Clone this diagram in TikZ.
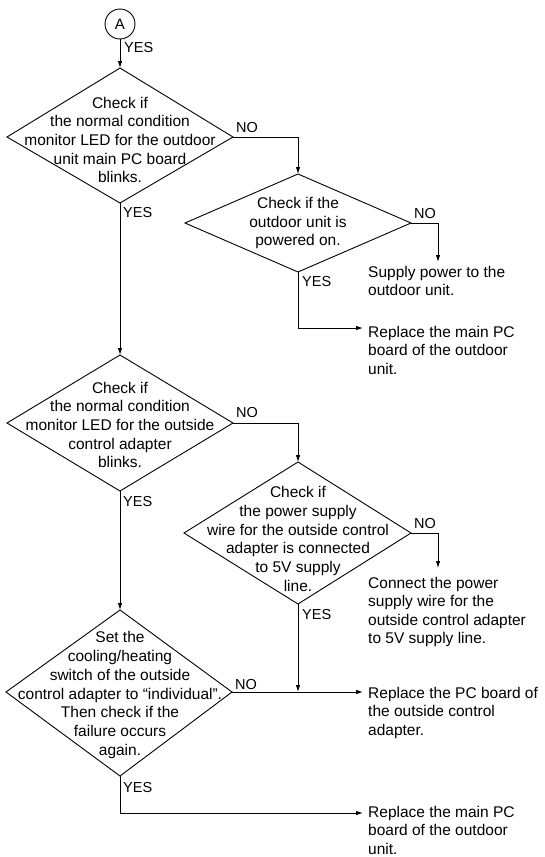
\documentclass[tikz,border=0pt]{standalone}
\usepackage{fontspec}
\setmainfont{Liberation Sans}
\usetikzlibrary{arrows.meta}
\begin{document}
\begin{tikzpicture}[x=1pt,y=-1pt,
  line/.style={draw, line width=0.9pt},
  arr/.style={line, -{Latex[length=7pt,width=4.5pt]}},
  txt/.style={font=\fontsize{15.5}{18.7}\selectfont, align=center, inner sep=0pt},
  rtxt/.style={font=\fontsize{15.5}{18.5}\selectfont, align=left, inner sep=0pt, anchor=north west},
  lbl/.style={font=\fontsize{14.5}{16}\selectfont, inner sep=0pt, anchor=west},
]
\useasboundingbox (0,0) rectangle (545,857);

% start circle
\node[draw, circle, line width=0.9pt, minimum size=30pt, inner sep=0pt, font=\fontsize{15}{16}\selectfont] (A) at (120,24) {A};

% diamond 1
\coordinate (d1t) at (120,68);
\coordinate (d1l) at (7,137);
\coordinate (d1r) at (233,137);
\coordinate (d1b) at (120,203);
\draw[line] (d1t) -- (d1r) -- (d1b) -- (d1l) -- cycle;
\node[txt] (d1) at (120,140) {Check if\\the normal condition\\monitor LED for the outdoor\\unit main PC board\\blinks.};

% diamond 2
\coordinate (d2t) at (298,174);
\coordinate (d2l) at (185,223);
\coordinate (d2r) at (411,223);
\coordinate (d2b) at (298,272);
\draw[line] (d2t) -- (d2r) -- (d2b) -- (d2l) -- cycle;
\node[txt] (d2) at (298,223) {Check if the\\outdoor unit is\\powered on.};

% diamond 3
\coordinate (d3t) at (120,355);
\coordinate (d3l) at (7,423);
\coordinate (d3r) at (233,423);
\coordinate (d3b) at (120,491);
\draw[line] (d3t) -- (d3r) -- (d3b) -- (d3l) -- cycle;
\node[txt] (d3) at (120,425) {Check if\\the normal condition\\monitor LED for the outside\\control adapter\\blinks.};

% diamond 4
\coordinate (d4t) at (298,462);
\coordinate (d4l) at (184,533);
\coordinate (d4r) at (411,533);
\coordinate (d4b) at (298,604);
\draw[line] (d4t) -- (d4r) -- (d4b) -- (d4l) -- cycle;
\node[txt] (d4) at (298,539) {Check if\\the power supply\\wire for the outside control\\adapter is connected\\to 5V supply\\line.};

% diamond 5
\coordinate (d5t) at (120,610);
\coordinate (d5l) at (6,692);
\coordinate (d5r) at (232,692);
\coordinate (d5b) at (120,776);
\draw[line] (d5t) -- (d5r) -- (d5b) -- (d5l) -- cycle;
\node[txt] (d5) at (120,695) {Set the\\cooling/heating\\switch of the outside\\control adapter to “individual”.\\Then check if the\\failure occurs\\again.};

% result texts
\node[rtxt] (r1) at (368,266) {Supply power to the\\outdoor unit.};
\node[rtxt] (r2) at (368,326) {Replace the main PC\\board of the outdoor\\unit.};
\node[rtxt] (r3) at (368,577) {Connect the power\\supply wire for the\\outside control adapter\\to 5V supply line.};
\node[rtxt] (r4) at (368,687) {Replace the PC board of\\the outside control\\adapter.};
\node[rtxt] (r5) at (368,806) {Replace the main PC\\board of the outdoor\\unit.};

% arrow end points
\coordinate (e1) at (438,262);
\coordinate (e2) at (363,328);
\coordinate (e3) at (438,568);
\coordinate (j4) at (298,692);
\coordinate (e4) at (363,692);
\coordinate (e5) at (363,813);

% connectors
\draw[arr] (A) -- (d1t);
\draw[arr] (d1b) -- (d3t);
\draw[arr] (d1r) -| (d2t);
\draw[arr] (d2r) -| (e1);
\draw[arr] (d2b) |- (e2);
\draw[arr] (d3b) -- (d5t);
\draw[arr] (d3r) -| (d4t);
\draw[arr] (d4r) -| (e3);
\draw[arr] (d4b) -- (j4);
\draw[arr] (d5r) -- (e4);
\draw[arr] (d5b) |- (e5);

% labels
\node[lbl] (y0) at (124,48) {YES};
\node[lbl] (n1) at (236,128) {NO};
\node[lbl] (y1) at (123,213) {YES};
\node[lbl] (n2) at (414,214) {NO};
\node[lbl] (y2) at (302,282) {YES};
\node[lbl] (n3) at (236,413) {NO};
\node[lbl] (y3) at (123,502) {YES};
\node[lbl] (n4) at (414,524) {NO};
\node[lbl] (y4) at (302,614) {YES};
\node[lbl] (n5) at (235,684) {NO};
\node[lbl] (y5) at (123,787) {YES};
\end{tikzpicture}
\end{document}
